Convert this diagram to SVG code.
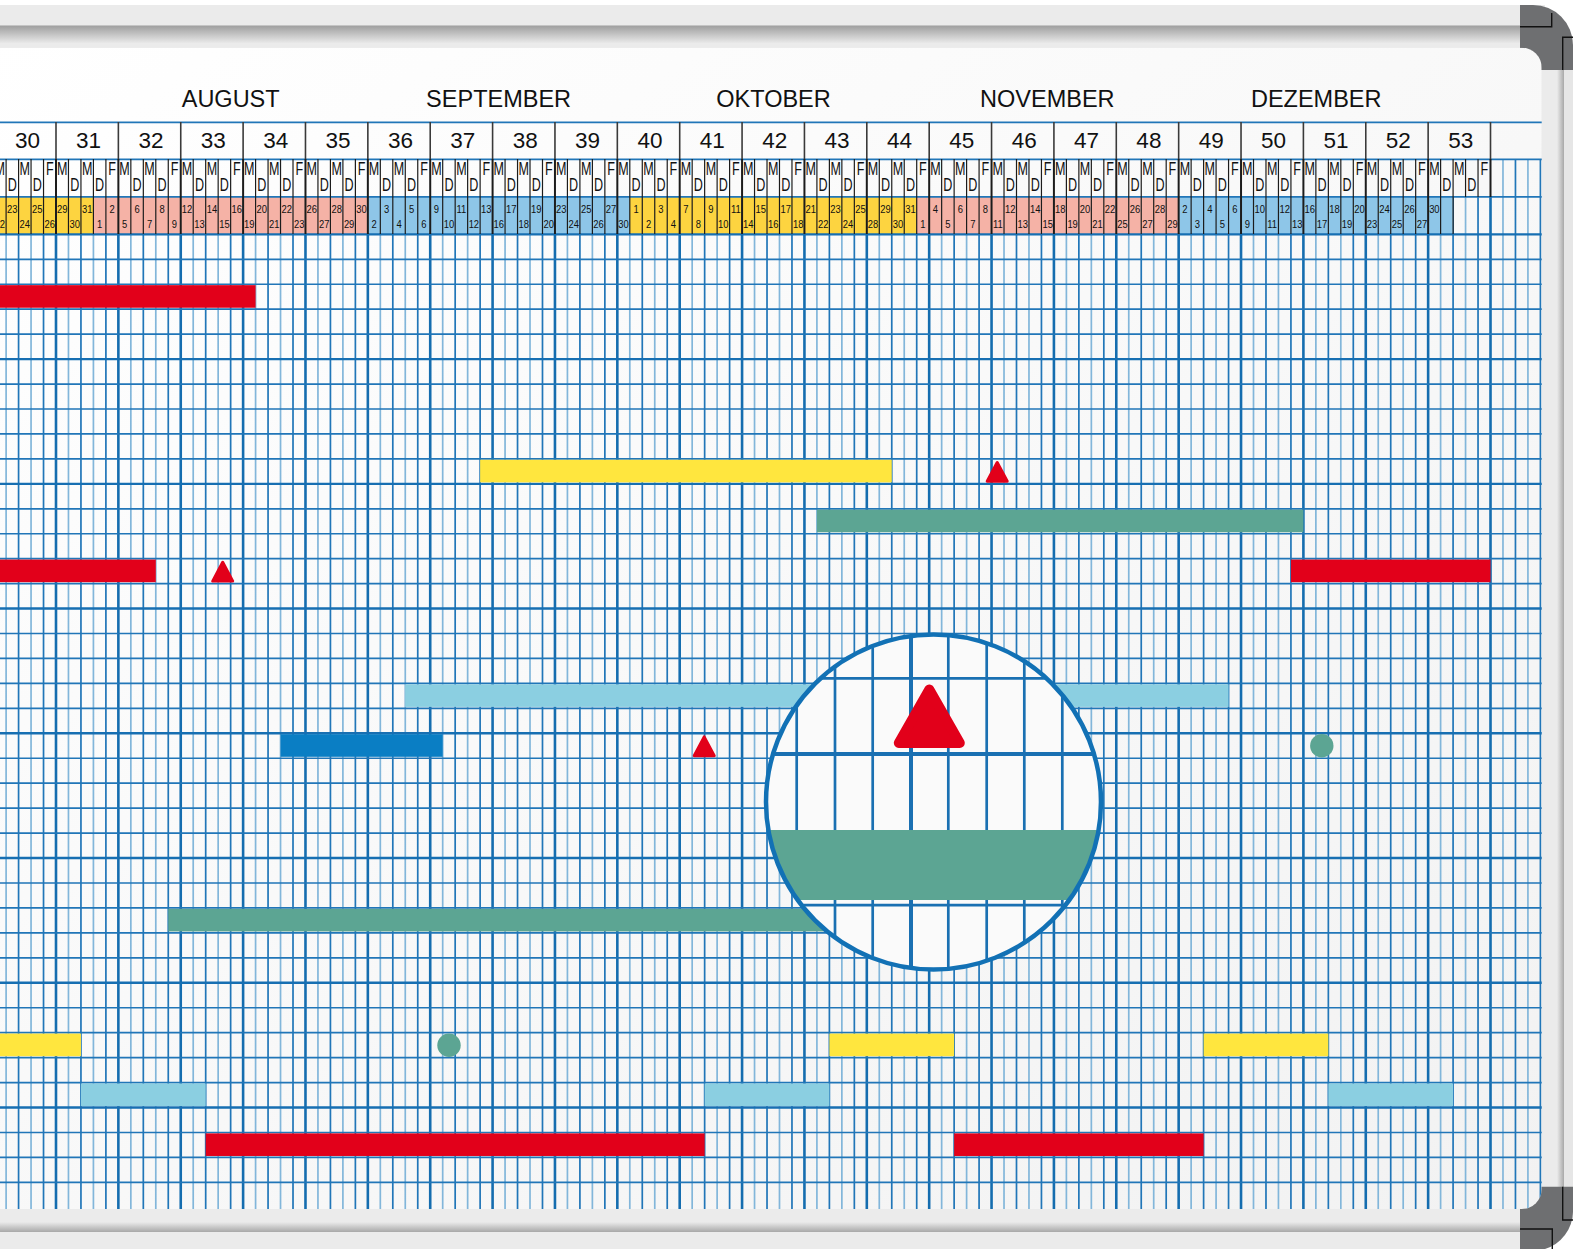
<svg xmlns="http://www.w3.org/2000/svg" xmlns:xlink="http://www.w3.org/1999/xlink" width="1573" height="1249" viewBox="0 0 1573 1249">
<defs>
<style>
.mo{font-family:"Liberation Sans",Arial,sans-serif;font-size:23.5px;fill:#111;text-anchor:middle}
.wn{font-family:"Liberation Sans",Arial,sans-serif;font-size:22.5px;fill:#111;text-anchor:middle}
.dl{font-family:"Liberation Sans",Arial,sans-serif;font-size:18.5px;fill:#111;text-anchor:middle}
.dn{font-family:"Liberation Sans",Arial,sans-serif;font-size:11.5px;fill:#111;text-anchor:middle}
.lt{stroke:#82b6da;stroke-width:1.7;fill:none}
.dk{stroke:#2176b8;stroke-width:1.7;fill:none}
.tk{stroke:#156daf;stroke-width:2.6;fill:none}
.hz{stroke:#2176b8;stroke-width:1.7;fill:none}
.hm{stroke:#176fb2;stroke-width:2.4;fill:none}
.bs{stroke:#1c1c1c;stroke-width:1.2;fill:none}
.bt{stroke:#1c1c1c;stroke-width:2;fill:none}
.ws{stroke:#3a3a3a;stroke-width:1.6;fill:none}
.red{fill:#e2001a}
.yel{fill:#ffe63e}
.grn{fill:#5ca593}
.lbl{fill:#8bcfe1}
.blu{fill:#0a7ec4}
.tri{fill:#e2001a;stroke:#e2001a;stroke-width:3;stroke-linejoin:round}
.cp{fill:#6e6f71}
.cl{stroke:#111;stroke-width:1.4;fill:none}
.ml{stroke:#1a70b2;stroke-width:2.7;fill:none}
.mt{stroke:#1a70b2;stroke-width:4;fill:none}
</style>
<linearGradient id="bg" x1="0" y1="0" x2="1" y2="1">
<stop offset="0" stop-color="#ffffff"/><stop offset="1" stop-color="#f2f2f2"/>
</linearGradient>
<linearGradient id="sh" x1="0" y1="0" x2="0" y2="1">
<stop offset="0" stop-color="#9e9e9e"/><stop offset="1" stop-color="#ebebeb"/>
</linearGradient>
<linearGradient id="shb" x1="0" y1="0" x2="0" y2="1">
<stop offset="0" stop-color="#ebebeb"/><stop offset="1" stop-color="#a8a8a8"/>
</linearGradient>
<linearGradient id="shr" x1="0" y1="0" x2="1" y2="0">
<stop offset="0" stop-color="#ebebeb"/><stop offset="1" stop-color="#a8a8a8"/>
</linearGradient>
<clipPath id="bc"><rect x="-30" y="47.7" width="1571.7" height="1161.3" rx="20"/></clipPath>
<clipPath id="mc"><circle cx="933.5" cy="802" r="166"/></clipPath>
<g id="bv"><path class="tk" d="M0 197V1210"/><path class="lt" d="M12.47 197V1210M37.42 197V1210"/><path class="dk" d="M24.95 197V1210M49.9 197V1210"/></g>
<g id="sl"><path class="bt" d="M0 159V197"/><path class="bs" d="M12.47 159V197M24.95 159V197M37.42 159V197M49.9 159V197"/></g>
<g id="sd"><path class="bt" d="M0 197V234"/><path class="bs" d="M12.47 197V234M24.95 197V234M37.42 197V234M49.9 197V234"/></g>
</defs>

<g id="frame">
<rect x="0" y="0" width="1573" height="1249" fill="#ffffff"/>
<rect x="0" y="5" width="1545" height="1244" fill="#ebebeb"/>
<rect x="1540" y="40" width="33" height="1180" fill="#ebebeb"/>
<rect x="0" y="25.5" width="1520" height="18" fill="url(#sh)"/>
<rect x="0" y="1222" width="1520" height="10" fill="url(#shb)"/>
<rect x="1557" y="70" width="7" height="1117" fill="url(#shr)"/>
<rect x="1564" y="70" width="9" height="1117" fill="#e6e6e6"/>
<path class="cp" d="M1520 5H1533A40 40 0 0 1 1573 45V70H1520Z"/>
<path class="cl" d="M1551.7 13V26.7H1520M1573 37.3H1562.7V70"/>
<path class="cp" d="M1520 1186.7H1573V1212A40 40 0 0 1 1545 1249H1520Z"/>
<path class="cl" d="M1562.7 1186.7V1220H1573M1520 1229H1552.3V1249"/>
</g>

<g id="board" clip-path="url(#bc)">
<rect x="-30" y="47.7" width="1571.7" height="1161.3" fill="url(#bg)"/>

<g id="grid">
<use xlink:href="#bv" x="-6.37"/><use xlink:href="#bv" x="56"/><use xlink:href="#bv" x="118.37"/><use xlink:href="#bv" x="180.74"/><use xlink:href="#bv" x="243.11"/><use xlink:href="#bv" x="305.48"/><use xlink:href="#bv" x="367.85"/><use xlink:href="#bv" x="430.22"/><use xlink:href="#bv" x="492.59"/><use xlink:href="#bv" x="554.96"/><use xlink:href="#bv" x="617.33"/><use xlink:href="#bv" x="679.7"/><use xlink:href="#bv" x="742.07"/><use xlink:href="#bv" x="804.44"/><use xlink:href="#bv" x="866.81"/><use xlink:href="#bv" x="929.18"/><use xlink:href="#bv" x="991.55"/><use xlink:href="#bv" x="1053.92"/><use xlink:href="#bv" x="1116.29"/><use xlink:href="#bv" x="1178.66"/><use xlink:href="#bv" x="1241.03"/><use xlink:href="#bv" x="1303.4"/><use xlink:href="#bv" x="1365.77"/><use xlink:href="#bv" x="1428.14"/><use xlink:href="#bv" x="1490.51"/>
<path class="lt" d="M1502.98 159V197M1527.93 159V197"/><path class="dk" d="M1515.46 159V197M1540.41 159V197"/>

<rect x="-10" y="197" width="103.42" height="37.35" fill="#fdd440"/>
<rect x="93.42" y="197" width="274.43" height="37.35" fill="#f5b2a6"/>
<rect x="367.85" y="197" width="261.95" height="37.35" fill="#8ec6e8"/>
<rect x="629.8" y="197" width="286.91" height="37.35" fill="#fdd440"/>
<rect x="916.71" y="197" width="261.95" height="37.35" fill="#f5b2a6"/>
<rect x="1178.66" y="197" width="274.43" height="37.35" fill="#8ec6e8"/>

<path class="hz" stroke-width="2" d="M0 122.3H1542M0 159.3H1542M0 196.9H1542"/>
<path class="hz" d="M0 259.3H1542M0 284.25H1542M0 309.19H1542M0 334.14H1542M0 384.04H1542M0 408.99H1542M0 433.93H1542M0 458.88H1542M0 508.78H1542M0 533.73H1542M0 558.67H1542M0 583.62H1542M0 633.52H1542M0 658.47H1542M0 683.41H1542M0 708.36H1542M0 758.26H1542M0 783.21H1542M0 808.15H1542M0 833.1H1542M0 883H1542M0 907.95H1542M0 932.89H1542M0 957.84H1542M0 1007.74H1542M0 1032.69H1542M0 1057.63H1542M0 1082.58H1542M0 1132.48H1542M0 1157.43H1542M0 1182.37H1542"/>
<path class="hm" d="M0 234.35H1542M0 359.09H1542M0 483.83H1542M0 608.57H1542M0 733.31H1542M0 858.05H1542M0 982.79H1542M0 1107.53H1542"/>

<path class="ws" d="M56 122V159M118.37 122V159M180.74 122V159M243.11 122V159M305.48 122V159M367.85 122V159M430.22 122V159M492.59 122V159M554.96 122V159M617.33 122V159M679.7 122V159M742.07 122V159M804.44 122V159M866.81 122V159M929.18 122V159M991.55 122V159M1053.92 122V159M1116.29 122V159M1178.66 122V159M1241.03 122V159M1303.4 122V159M1365.77 122V159M1428.14 122V159M1490.51 122V159"/>
<use xlink:href="#sl" x="-6.37"/><use xlink:href="#sl" x="56"/><use xlink:href="#sl" x="118.37"/><use xlink:href="#sl" x="180.74"/><use xlink:href="#sl" x="243.11"/><use xlink:href="#sl" x="305.48"/><use xlink:href="#sl" x="367.85"/><use xlink:href="#sl" x="430.22"/><use xlink:href="#sl" x="492.59"/><use xlink:href="#sl" x="554.96"/><use xlink:href="#sl" x="617.33"/><use xlink:href="#sl" x="679.7"/><use xlink:href="#sl" x="742.07"/><use xlink:href="#sl" x="804.44"/><use xlink:href="#sl" x="866.81"/><use xlink:href="#sl" x="929.18"/><use xlink:href="#sl" x="991.55"/><use xlink:href="#sl" x="1053.92"/><use xlink:href="#sl" x="1116.29"/><use xlink:href="#sl" x="1178.66"/><use xlink:href="#sl" x="1241.03"/><use xlink:href="#sl" x="1303.4"/><use xlink:href="#sl" x="1365.77"/><use xlink:href="#sl" x="1428.14"/>
<path class="bt" d="M1490.51 159V197"/>
<use xlink:href="#sd" x="-6.37"/><use xlink:href="#sd" x="56"/><use xlink:href="#sd" x="118.37"/><use xlink:href="#sd" x="180.74"/><use xlink:href="#sd" x="243.11"/><use xlink:href="#sd" x="305.48"/><use xlink:href="#sd" x="367.85"/><use xlink:href="#sd" x="430.22"/><use xlink:href="#sd" x="492.59"/><use xlink:href="#sd" x="554.96"/><use xlink:href="#sd" x="617.33"/><use xlink:href="#sd" x="679.7"/><use xlink:href="#sd" x="742.07"/><use xlink:href="#sd" x="804.44"/><use xlink:href="#sd" x="866.81"/><use xlink:href="#sd" x="929.18"/><use xlink:href="#sd" x="991.55"/><use xlink:href="#sd" x="1053.92"/><use xlink:href="#sd" x="1116.29"/><use xlink:href="#sd" x="1178.66"/><use xlink:href="#sd" x="1241.03"/><use xlink:href="#sd" x="1303.4"/><use xlink:href="#sd" x="1365.77"/>
<path class="bt" d="M1428.14 197V234"/><path class="bs" d="M1440.61 197V234M1453.09 197V234"/>
</g>

<g id="months">
<text class="mo" x="230.7" y="106.7">AUGUST</text>
<text class="mo" x="498.6" y="106.7">SEPTEMBER</text>
<text class="mo" x="773.5" y="106.7">OKTOBER</text>
<text class="mo" x="1047.3" y="106.7">NOVEMBER</text>
<text class="mo" x="1316.2" y="106.7">DEZEMBER</text>
</g>

<g id="w30" transform="translate(-6.37 0)"><text class="wn" x="33.8" y="147.7">30</text><text class="dl" transform="scale(.68 1)"><tspan x="9.17" y="175">M</tspan><tspan x="27.52" y="191.5">D</tspan><tspan x="45.86" y="175">M</tspan><tspan x="64.21" y="191.5">D</tspan><tspan x="82.55" y="175">F</tspan></text><text class="dn" transform="scale(.82 1)"><tspan x="7.61" y="228.5">22</tspan><tspan x="22.82" y="213.3">23</tspan><tspan x="38.03" y="228.5">24</tspan><tspan x="53.24" y="213.3">25</tspan><tspan x="68.45" y="228.5">26</tspan></text></g>
<g id="w31" transform="translate(56 0)"><text class="wn" x="32.6" y="147.7">31</text><text class="dl" transform="scale(.68 1)"><tspan x="9.17" y="175">M</tspan><tspan x="27.52" y="191.5">D</tspan><tspan x="45.86" y="175">M</tspan><tspan x="64.21" y="191.5">D</tspan><tspan x="82.55" y="175">F</tspan></text><text class="dn" transform="scale(.82 1)"><tspan x="7.61" y="213.3">29</tspan><tspan x="22.82" y="228.5">30</tspan><tspan x="38.03" y="213.3">31</tspan><tspan x="53.24" y="228.5">1</tspan><tspan x="68.45" y="213.3">2</tspan></text></g>
<g id="w32" transform="translate(118.37 0)"><text class="wn" x="32.6" y="147.7">32</text><text class="dl" transform="scale(.68 1)"><tspan x="9.17" y="175">M</tspan><tspan x="27.52" y="191.5">D</tspan><tspan x="45.86" y="175">M</tspan><tspan x="64.21" y="191.5">D</tspan><tspan x="82.55" y="175">F</tspan></text><text class="dn" transform="scale(.82 1)"><tspan x="7.61" y="228.5">5</tspan><tspan x="22.82" y="213.3">6</tspan><tspan x="38.03" y="228.5">7</tspan><tspan x="53.24" y="213.3">8</tspan><tspan x="68.45" y="228.5">9</tspan></text></g>
<g id="w33" transform="translate(180.74 0)"><text class="wn" x="32.6" y="147.7">33</text><text class="dl" transform="scale(.68 1)"><tspan x="9.17" y="175">M</tspan><tspan x="27.52" y="191.5">D</tspan><tspan x="45.86" y="175">M</tspan><tspan x="64.21" y="191.5">D</tspan><tspan x="82.55" y="175">F</tspan></text><text class="dn" transform="scale(.82 1)"><tspan x="7.61" y="213.3">12</tspan><tspan x="22.82" y="228.5">13</tspan><tspan x="38.03" y="213.3">14</tspan><tspan x="53.24" y="228.5">15</tspan><tspan x="68.45" y="213.3">16</tspan></text></g>
<g id="w34" transform="translate(243.11 0)"><text class="wn" x="32.6" y="147.7">34</text><text class="dl" transform="scale(.68 1)"><tspan x="9.17" y="175">M</tspan><tspan x="27.52" y="191.5">D</tspan><tspan x="45.86" y="175">M</tspan><tspan x="64.21" y="191.5">D</tspan><tspan x="82.55" y="175">F</tspan></text><text class="dn" transform="scale(.82 1)"><tspan x="7.61" y="228.5">19</tspan><tspan x="22.82" y="213.3">20</tspan><tspan x="38.03" y="228.5">21</tspan><tspan x="53.24" y="213.3">22</tspan><tspan x="68.45" y="228.5">23</tspan></text></g>
<g id="w35" transform="translate(305.48 0)"><text class="wn" x="32.6" y="147.7">35</text><text class="dl" transform="scale(.68 1)"><tspan x="9.17" y="175">M</tspan><tspan x="27.52" y="191.5">D</tspan><tspan x="45.86" y="175">M</tspan><tspan x="64.21" y="191.5">D</tspan><tspan x="82.55" y="175">F</tspan></text><text class="dn" transform="scale(.82 1)"><tspan x="7.61" y="213.3">26</tspan><tspan x="22.82" y="228.5">27</tspan><tspan x="38.03" y="213.3">28</tspan><tspan x="53.24" y="228.5">29</tspan><tspan x="68.45" y="213.3">30</tspan></text></g>
<g id="w36" transform="translate(367.85 0)"><text class="wn" x="32.6" y="147.7">36</text><text class="dl" transform="scale(.68 1)"><tspan x="9.17" y="175">M</tspan><tspan x="27.52" y="191.5">D</tspan><tspan x="45.86" y="175">M</tspan><tspan x="64.21" y="191.5">D</tspan><tspan x="82.55" y="175">F</tspan></text><text class="dn" transform="scale(.82 1)"><tspan x="7.61" y="228.5">2</tspan><tspan x="22.82" y="213.3">3</tspan><tspan x="38.03" y="228.5">4</tspan><tspan x="53.24" y="213.3">5</tspan><tspan x="68.45" y="228.5">6</tspan></text></g>
<g id="w37" transform="translate(430.22 0)"><text class="wn" x="32.6" y="147.7">37</text><text class="dl" transform="scale(.68 1)"><tspan x="9.17" y="175">M</tspan><tspan x="27.52" y="191.5">D</tspan><tspan x="45.86" y="175">M</tspan><tspan x="64.21" y="191.5">D</tspan><tspan x="82.55" y="175">F</tspan></text><text class="dn" transform="scale(.82 1)"><tspan x="7.61" y="213.3">9</tspan><tspan x="22.82" y="228.5">10</tspan><tspan x="38.03" y="213.3">11</tspan><tspan x="53.24" y="228.5">12</tspan><tspan x="68.45" y="213.3">13</tspan></text></g>
<g id="w38" transform="translate(492.59 0)"><text class="wn" x="32.6" y="147.7">38</text><text class="dl" transform="scale(.68 1)"><tspan x="9.17" y="175">M</tspan><tspan x="27.52" y="191.5">D</tspan><tspan x="45.86" y="175">M</tspan><tspan x="64.21" y="191.5">D</tspan><tspan x="82.55" y="175">F</tspan></text><text class="dn" transform="scale(.82 1)"><tspan x="7.61" y="228.5">16</tspan><tspan x="22.82" y="213.3">17</tspan><tspan x="38.03" y="228.5">18</tspan><tspan x="53.24" y="213.3">19</tspan><tspan x="68.45" y="228.5">20</tspan></text></g>
<g id="w39" transform="translate(554.96 0)"><text class="wn" x="32.6" y="147.7">39</text><text class="dl" transform="scale(.68 1)"><tspan x="9.17" y="175">M</tspan><tspan x="27.52" y="191.5">D</tspan><tspan x="45.86" y="175">M</tspan><tspan x="64.21" y="191.5">D</tspan><tspan x="82.55" y="175">F</tspan></text><text class="dn" transform="scale(.82 1)"><tspan x="7.61" y="213.3">23</tspan><tspan x="22.82" y="228.5">24</tspan><tspan x="38.03" y="213.3">25</tspan><tspan x="53.24" y="228.5">26</tspan><tspan x="68.45" y="213.3">27</tspan></text></g>
<g id="w40" transform="translate(617.33 0)"><text class="wn" x="32.6" y="147.7">40</text><text class="dl" transform="scale(.68 1)"><tspan x="9.17" y="175">M</tspan><tspan x="27.52" y="191.5">D</tspan><tspan x="45.86" y="175">M</tspan><tspan x="64.21" y="191.5">D</tspan><tspan x="82.55" y="175">F</tspan></text><text class="dn" transform="scale(.82 1)"><tspan x="7.61" y="228.5">30</tspan><tspan x="22.82" y="213.3">1</tspan><tspan x="38.03" y="228.5">2</tspan><tspan x="53.24" y="213.3">3</tspan><tspan x="68.45" y="228.5">4</tspan></text></g>
<g id="w41" transform="translate(679.7 0)"><text class="wn" x="32.6" y="147.7">41</text><text class="dl" transform="scale(.68 1)"><tspan x="9.17" y="175">M</tspan><tspan x="27.52" y="191.5">D</tspan><tspan x="45.86" y="175">M</tspan><tspan x="64.21" y="191.5">D</tspan><tspan x="82.55" y="175">F</tspan></text><text class="dn" transform="scale(.82 1)"><tspan x="7.61" y="213.3">7</tspan><tspan x="22.82" y="228.5">8</tspan><tspan x="38.03" y="213.3">9</tspan><tspan x="53.24" y="228.5">10</tspan><tspan x="68.45" y="213.3">11</tspan></text></g>
<g id="w42" transform="translate(742.07 0)"><text class="wn" x="32.6" y="147.7">42</text><text class="dl" transform="scale(.68 1)"><tspan x="9.17" y="175">M</tspan><tspan x="27.52" y="191.5">D</tspan><tspan x="45.86" y="175">M</tspan><tspan x="64.21" y="191.5">D</tspan><tspan x="82.55" y="175">F</tspan></text><text class="dn" transform="scale(.82 1)"><tspan x="7.61" y="228.5">14</tspan><tspan x="22.82" y="213.3">15</tspan><tspan x="38.03" y="228.5">16</tspan><tspan x="53.24" y="213.3">17</tspan><tspan x="68.45" y="228.5">18</tspan></text></g>
<g id="w43" transform="translate(804.44 0)"><text class="wn" x="32.6" y="147.7">43</text><text class="dl" transform="scale(.68 1)"><tspan x="9.17" y="175">M</tspan><tspan x="27.52" y="191.5">D</tspan><tspan x="45.86" y="175">M</tspan><tspan x="64.21" y="191.5">D</tspan><tspan x="82.55" y="175">F</tspan></text><text class="dn" transform="scale(.82 1)"><tspan x="7.61" y="213.3">21</tspan><tspan x="22.82" y="228.5">22</tspan><tspan x="38.03" y="213.3">23</tspan><tspan x="53.24" y="228.5">24</tspan><tspan x="68.45" y="213.3">25</tspan></text></g>
<g id="w44" transform="translate(866.81 0)"><text class="wn" x="32.6" y="147.7">44</text><text class="dl" transform="scale(.68 1)"><tspan x="9.17" y="175">M</tspan><tspan x="27.52" y="191.5">D</tspan><tspan x="45.86" y="175">M</tspan><tspan x="64.21" y="191.5">D</tspan><tspan x="82.55" y="175">F</tspan></text><text class="dn" transform="scale(.82 1)"><tspan x="7.61" y="228.5">28</tspan><tspan x="22.82" y="213.3">29</tspan><tspan x="38.03" y="228.5">30</tspan><tspan x="53.24" y="213.3">31</tspan><tspan x="68.45" y="228.5">1</tspan></text></g>
<g id="w45" transform="translate(929.18 0)"><text class="wn" x="32.6" y="147.7">45</text><text class="dl" transform="scale(.68 1)"><tspan x="9.17" y="175">M</tspan><tspan x="27.52" y="191.5">D</tspan><tspan x="45.86" y="175">M</tspan><tspan x="64.21" y="191.5">D</tspan><tspan x="82.55" y="175">F</tspan></text><text class="dn" transform="scale(.82 1)"><tspan x="7.61" y="213.3">4</tspan><tspan x="22.82" y="228.5">5</tspan><tspan x="38.03" y="213.3">6</tspan><tspan x="53.24" y="228.5">7</tspan><tspan x="68.45" y="213.3">8</tspan></text></g>
<g id="w46" transform="translate(991.55 0)"><text class="wn" x="32.6" y="147.7">46</text><text class="dl" transform="scale(.68 1)"><tspan x="9.17" y="175">M</tspan><tspan x="27.52" y="191.5">D</tspan><tspan x="45.86" y="175">M</tspan><tspan x="64.21" y="191.5">D</tspan><tspan x="82.55" y="175">F</tspan></text><text class="dn" transform="scale(.82 1)"><tspan x="7.61" y="228.5">11</tspan><tspan x="22.82" y="213.3">12</tspan><tspan x="38.03" y="228.5">13</tspan><tspan x="53.24" y="213.3">14</tspan><tspan x="68.45" y="228.5">15</tspan></text></g>
<g id="w47" transform="translate(1053.92 0)"><text class="wn" x="32.6" y="147.7">47</text><text class="dl" transform="scale(.68 1)"><tspan x="9.17" y="175">M</tspan><tspan x="27.52" y="191.5">D</tspan><tspan x="45.86" y="175">M</tspan><tspan x="64.21" y="191.5">D</tspan><tspan x="82.55" y="175">F</tspan></text><text class="dn" transform="scale(.82 1)"><tspan x="7.61" y="213.3">18</tspan><tspan x="22.82" y="228.5">19</tspan><tspan x="38.03" y="213.3">20</tspan><tspan x="53.24" y="228.5">21</tspan><tspan x="68.45" y="213.3">22</tspan></text></g>
<g id="w48" transform="translate(1116.29 0)"><text class="wn" x="32.6" y="147.7">48</text><text class="dl" transform="scale(.68 1)"><tspan x="9.17" y="175">M</tspan><tspan x="27.52" y="191.5">D</tspan><tspan x="45.86" y="175">M</tspan><tspan x="64.21" y="191.5">D</tspan><tspan x="82.55" y="175">F</tspan></text><text class="dn" transform="scale(.82 1)"><tspan x="7.61" y="228.5">25</tspan><tspan x="22.82" y="213.3">26</tspan><tspan x="38.03" y="228.5">27</tspan><tspan x="53.24" y="213.3">28</tspan><tspan x="68.45" y="228.5">29</tspan></text></g>
<g id="w49" transform="translate(1178.66 0)"><text class="wn" x="32.6" y="147.7">49</text><text class="dl" transform="scale(.68 1)"><tspan x="9.17" y="175">M</tspan><tspan x="27.52" y="191.5">D</tspan><tspan x="45.86" y="175">M</tspan><tspan x="64.21" y="191.5">D</tspan><tspan x="82.55" y="175">F</tspan></text><text class="dn" transform="scale(.82 1)"><tspan x="7.61" y="213.3">2</tspan><tspan x="22.82" y="228.5">3</tspan><tspan x="38.03" y="213.3">4</tspan><tspan x="53.24" y="228.5">5</tspan><tspan x="68.45" y="213.3">6</tspan></text></g>
<g id="w50" transform="translate(1241.03 0)"><text class="wn" x="32.6" y="147.7">50</text><text class="dl" transform="scale(.68 1)"><tspan x="9.17" y="175">M</tspan><tspan x="27.52" y="191.5">D</tspan><tspan x="45.86" y="175">M</tspan><tspan x="64.21" y="191.5">D</tspan><tspan x="82.55" y="175">F</tspan></text><text class="dn" transform="scale(.82 1)"><tspan x="7.61" y="228.5">9</tspan><tspan x="22.82" y="213.3">10</tspan><tspan x="38.03" y="228.5">11</tspan><tspan x="53.24" y="213.3">12</tspan><tspan x="68.45" y="228.5">13</tspan></text></g>
<g id="w51" transform="translate(1303.4 0)"><text class="wn" x="32.6" y="147.7">51</text><text class="dl" transform="scale(.68 1)"><tspan x="9.17" y="175">M</tspan><tspan x="27.52" y="191.5">D</tspan><tspan x="45.86" y="175">M</tspan><tspan x="64.21" y="191.5">D</tspan><tspan x="82.55" y="175">F</tspan></text><text class="dn" transform="scale(.82 1)"><tspan x="7.61" y="213.3">16</tspan><tspan x="22.82" y="228.5">17</tspan><tspan x="38.03" y="213.3">18</tspan><tspan x="53.24" y="228.5">19</tspan><tspan x="68.45" y="213.3">20</tspan></text></g>
<g id="w52" transform="translate(1365.77 0)"><text class="wn" x="32.6" y="147.7">52</text><text class="dl" transform="scale(.68 1)"><tspan x="9.17" y="175">M</tspan><tspan x="27.52" y="191.5">D</tspan><tspan x="45.86" y="175">M</tspan><tspan x="64.21" y="191.5">D</tspan><tspan x="82.55" y="175">F</tspan></text><text class="dn" transform="scale(.82 1)"><tspan x="7.61" y="228.5">23</tspan><tspan x="22.82" y="213.3">24</tspan><tspan x="38.03" y="228.5">25</tspan><tspan x="53.24" y="213.3">26</tspan><tspan x="68.45" y="228.5">27</tspan></text></g>
<g id="w53" transform="translate(1428.14 0)"><text class="wn" x="32.6" y="147.7">53</text><text class="dl" transform="scale(.68 1)"><tspan x="9.17" y="175">M</tspan><tspan x="27.52" y="191.5">D</tspan><tspan x="45.86" y="175">M</tspan><tspan x="64.21" y="191.5">D</tspan><tspan x="82.55" y="175">F</tspan></text><text class="dn" transform="scale(.82 1)"><tspan x="7.61" y="213.3">30</tspan></text></g>

<g id="bars">
<rect class="red" x="-10" y="285.15" width="265.58" height="22.6"/>
<rect class="yel" x="480.12" y="459.78" width="411.64" height="22.6"/>
<polygon class="tri" points="997.2,462.5 987.2,481.3 1007.2,481.3"/>
<rect class="grn" x="816.91" y="509.68" width="486.49" height="22.6"/>
<rect class="red" x="-10" y="559.57" width="165.79" height="22.6"/>
<polygon class="tri" points="222.7,562.3 212.7,581.1 232.7,581.1"/>
<rect class="red" x="1290.93" y="559.57" width="199.58" height="22.6"/>
<rect class="lbl" x="405.27" y="684.31" width="823.29" height="22.6"/>
<rect class="blu" x="280.53" y="734.21" width="162.16" height="22.6"/>
<polygon class="tri" points="704.2,736.9 694.2,755.7 714.2,755.7"/>
<circle class="grn" cx="1321.8" cy="745.8" r="11.7"/>
<rect class="grn" x="168.27" y="908.85" width="731.73" height="22.6"/>
<rect class="yel" x="-10" y="1033.59" width="90.95" height="22.6"/>
<rect class="yel" x="829.39" y="1033.59" width="124.74" height="22.6"/>
<rect class="yel" x="1203.61" y="1033.59" width="124.74" height="22.6"/>
<circle class="grn" cx="449" cy="1045.2" r="11.7"/>
<rect class="lbl" x="80.95" y="1083.48" width="124.74" height="22.6"/>
<rect class="lbl" x="704.65" y="1083.48" width="124.74" height="22.6"/>
<rect class="lbl" x="1328.35" y="1083.48" width="124.74" height="22.6"/>
<rect class="red" x="205.69" y="1133.38" width="498.96" height="22.6"/>
<rect class="red" x="954.13" y="1133.38" width="249.48" height="22.6"/>
</g>

<g id="magnifier">
<circle cx="933.5" cy="802" r="167.5" fill="#fafafa"/>
<g clip-path="url(#mc)">
<path class="ml" d="M758.9 620V990M796.7 620V990M835 620V990M872.7 620V990M948.3 620V990M986.7 620V990M1024.3 620V990M1062.3 620V990M1100.3 620V990M740 678.3H1120M740 905.2H1120"/>
<path class="mt" d="M911 620V990M740 754H1120"/>
<rect class="grn" x="740" y="830" width="380" height="70"/>
<polygon points="929.3,689.5 898.8,743 959.8,743" fill="#e2001a" stroke="#e2001a" stroke-width="10" stroke-linejoin="round"/>
</g>
<circle cx="933.5" cy="802" r="167.5" fill="none" stroke="#1271b5" stroke-width="4.5"/>
</g>
</g>
</svg>
